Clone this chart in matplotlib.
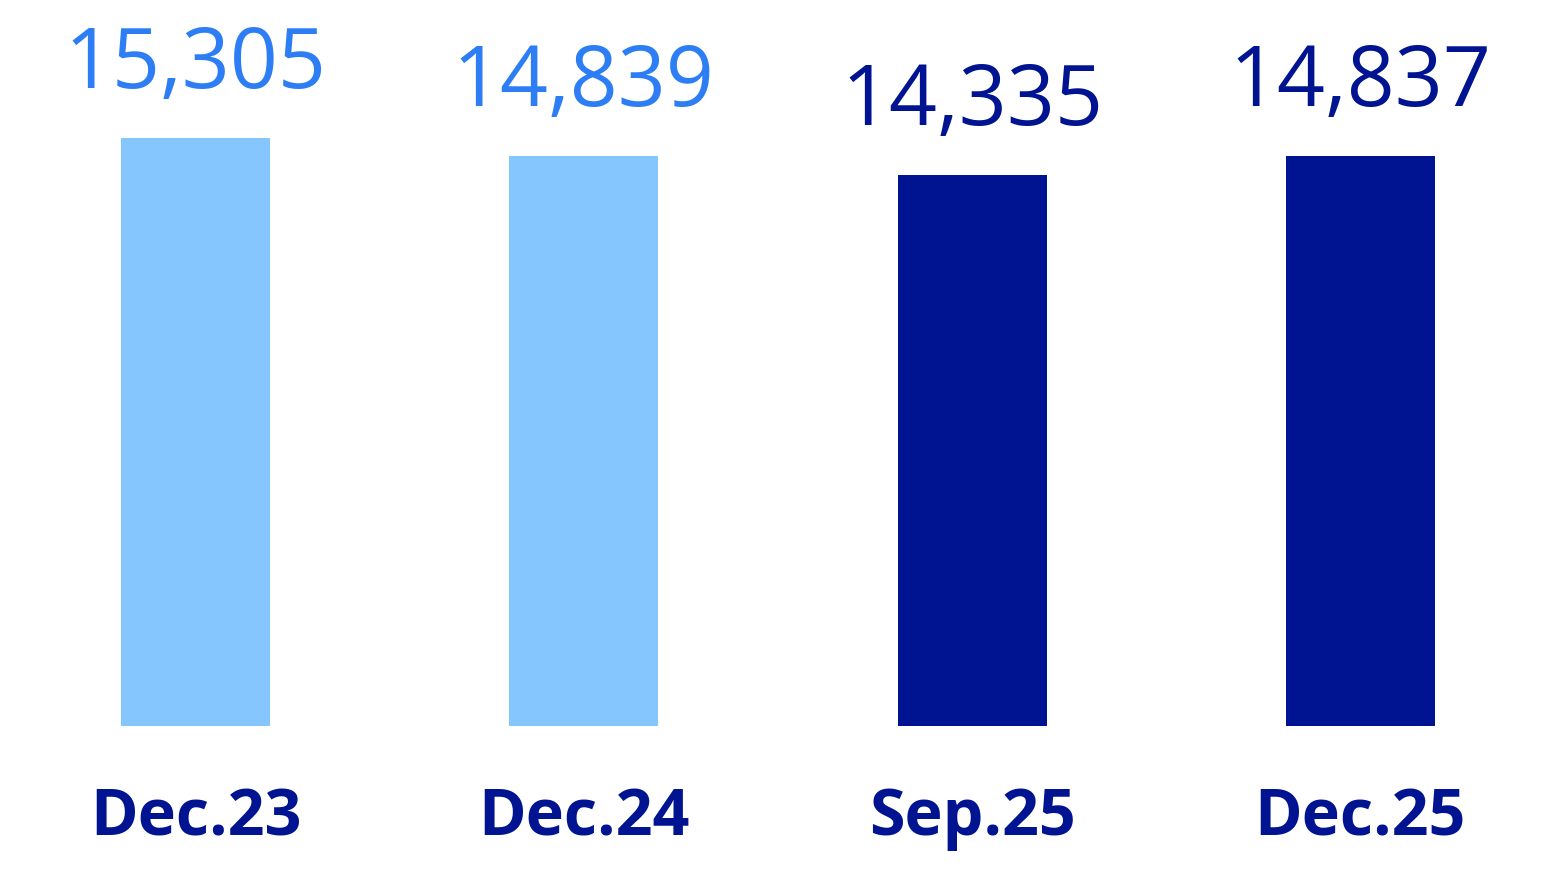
import matplotlib

matplotlib.use("Agg")
import matplotlib.pyplot as plt

# data
periods = ["Dec.23", "Dec.24", "Sep.25", "Dec.25"]
values = [15305, 14839, 14335, 14837]
bar_colors = ["#85C6FE", "#85C6FE", "#001391", "#001391"]
label_colors = ["#2D7EF4", "#2D7EF4", "#001391", "#001391"]

plt.rcParams["font.family"] = ["Open Sans", "DejaVu Sans"]

fig = plt.figure(figsize=(15.54, 8.76), dpi=100)
ax = fig.add_axes([0, 0.1716, 1, 0.8284])

x = range(len(periods))
ax.bar(x, values, width=0.384, color=bar_colors)

for xi, v, c in zip(x, values, label_colors):
    ax.annotate(f"{v:,}", (xi, v), xytext=(0, 36), textcoords="offset points",
                ha="center", va="baseline", fontsize=60.5, color=c)

ax.set_xlim(-0.5035, 3.4986)
ax.set_ylim(0, 18890)
ax.set_xticks(list(x))
ax.set_xticklabels(periods, fontsize=46.5, fontweight="bold", color="#001391")
ax.tick_params(axis="x", length=0, pad=43.5)
ax.set_yticks([])
for s in ax.spines.values():
    s.set_visible(False)
ax.patch.set_alpha(0)

fig.savefig("out.png", dpi=100)
